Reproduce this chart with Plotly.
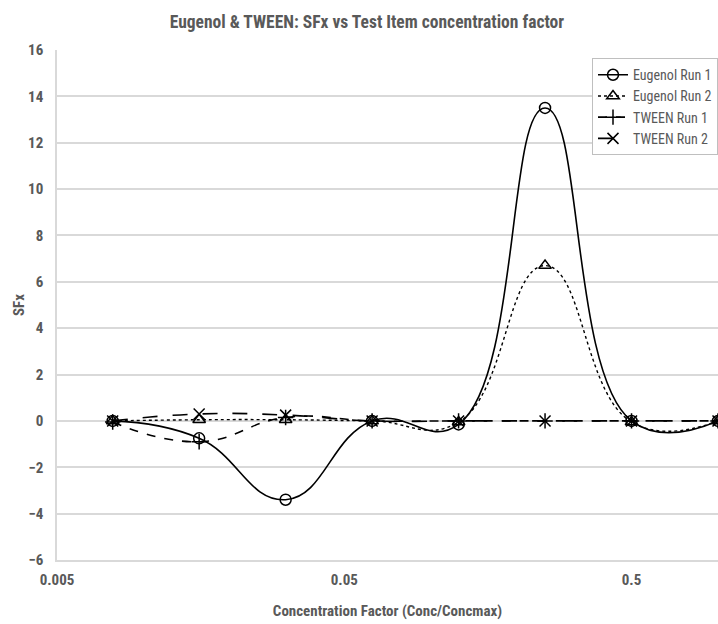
import plotly.graph_objects as go

conc = [0.0078125, 0.015625, 0.03125, 0.0625, 0.125, 0.25, 0.5, 1.0]
eugenol_run1 = [0.0, -0.75, -3.4, 0.0, -0.15, 13.5, 0.0, 0.0]
eugenol_run2 = [0.0, 0.05, 0.05, 0.0, -0.05, 6.7, -0.05, 0.0]
tween_run1 = [-0.05, -0.9, 0.15, 0.0, 0.0, 0.0, 0.0, 0.0]
tween_run2 = [0.0, 0.3, 0.25, 0.0, 0.0, 0.0, 0.0, 0.0]

series = [
    ("Eugenol Run 1", eugenol_run1, "solid", "circle-open", 1.6),
    ("Eugenol Run 2", eugenol_run2, "dot", "triangle-up-open", 1.4),
    ("TWEEN Run 1", tween_run1, "dash", "cross-thin-open", 1.6),
    ("TWEEN Run 2", tween_run2, "longdash", "x-thin-open", 1.6),
]

FONT = "Roboto Condensed"
GRAY = "#595959"

fig = go.Figure()
for name, vals, dash, sym, w in series:
    fig.add_trace(go.Scatter(
        x=conc, y=vals, name=name, mode="lines+markers",
        line=dict(color="black", width=w, dash=dash, shape="spline", smoothing=1.3),
        marker=dict(symbol=sym, size=11, color="black", line=dict(color="black", width=1.5)),
    ))

fig.update_layout(
    width=718, height=624,
    margin=dict(l=57, r=0, t=50, b=64),
    paper_bgcolor="white", plot_bgcolor="white",
    font=dict(family=FONT, color=GRAY, size=15),
    title=dict(text="<b>Eugenol & TWEEN: SFx vs Test Item concentration factor</b>",
               x=0.511, xanchor="center", y=0.965, yanchor="middle",
               font=dict(family=FONT, size=17.5, color=GRAY)),
    showlegend=True,
    legend=dict(x=1, xanchor="right", y=0.984, yanchor="top",
                bordercolor="#bfbfbf", borderwidth=1, bgcolor="white",
                font=dict(family=FONT, size=14, color=GRAY),
                itemwidth=30, tracegroupgap=0),
    xaxis=dict(type="log", range=[-2.30103, 0.0], automargin=False,
               tickvals=[0.005, 0.05, 0.5], ticktext=["<b>0.005</b>", "<b>0.05</b>", "<b>0.5</b>"],
               showgrid=False, showline=True, linecolor="#d9d9d9", linewidth=1.5,
               ticks="outside", ticklen=5, tickcolor="rgba(0,0,0,0)", zeroline=False,
               title=dict(text="<b>Concentration Factor (Conc/Concmax)</b>", standoff=18,
                          font=dict(family=FONT, size=15, color=GRAY)),
               tickfont=dict(family=FONT, size=15, color=GRAY)),
    yaxis=dict(range=[-6, 16], dtick=2, tickmode="linear", automargin=False,
               showgrid=True, gridcolor="#d9d9d9", gridwidth=1.5,
               showline=True, linecolor="#d9d9d9", linewidth=1.5,
               zeroline=False, ticks="outside", ticklen=9, tickcolor="rgba(0,0,0,0)",
               tickprefix="<b>", ticksuffix="</b>",
               title=dict(text="<b>SFx</b>", standoff=0,
                          font=dict(family=FONT, size=15, color=GRAY)),
               tickfont=dict(family=FONT, size=15, color=GRAY)),
)

fig.write_html("out.html", config={"displayModeBar": False},
               post_script="document.body.style.margin='0';document.body.style.padding='0';")
